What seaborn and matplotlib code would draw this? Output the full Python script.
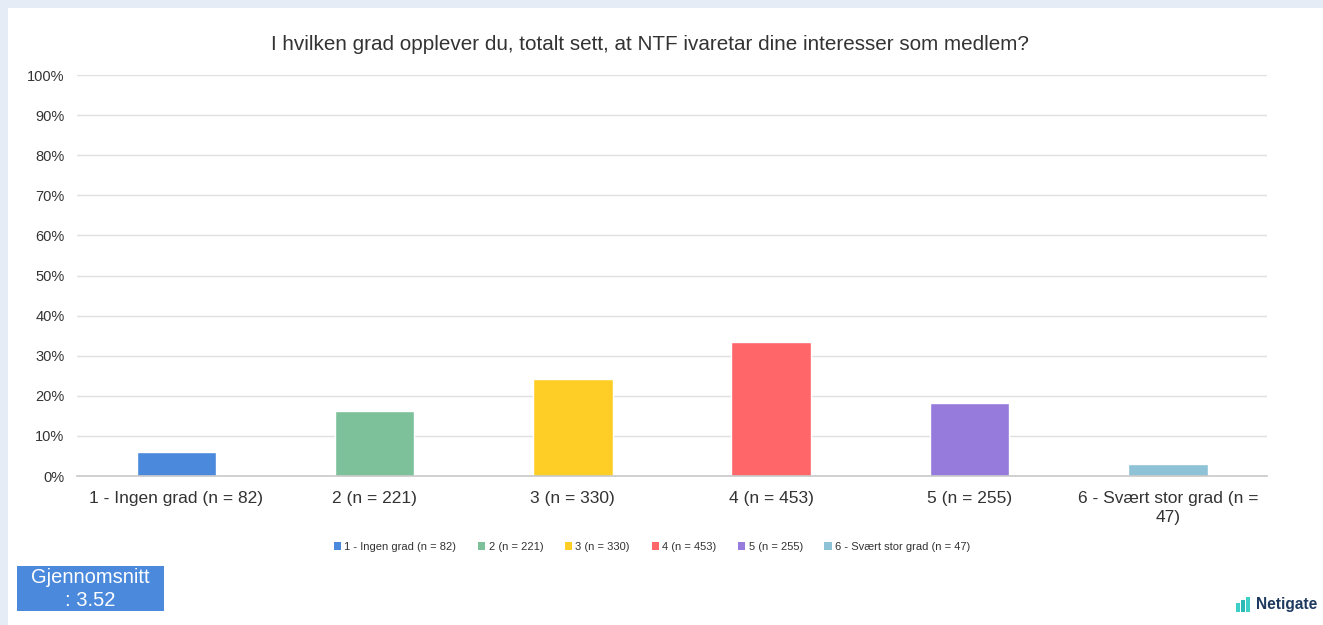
import pandas as pd
import seaborn as sns
import matplotlib.pyplot as plt
from matplotlib.patches import Rectangle, Patch
from matplotlib.ticker import PercentFormatter

# Data
categories = ['1 - Ingen grad (n = 82)', '2 (n = 221)', '3 (n = 330)',
              '4 (n = 453)', '5 (n = 255)', '6 - Svært stor grad (n = 47)']
tick_labels = ['1 - Ingen grad (n = 82)', '2 (n = 221)', '3 (n = 330)',
               '4 (n = 453)', '5 (n = 255)', '6 - Svært stor grad (n =\n47)']
percent = [6.1, 16.3, 24.3, 33.3, 18.2, 3.1]
colors = ['#4A89DC', '#7DC19B', '#FFCE26', '#FF6669', '#967ADC', '#8EC3D7']
title = 'I hvilken grad opplever du, totalt sett, at NTF ivaretar dine interesser som medlem?'
average_text = 'Gjennomsnitt\n: 3.52'

sns.set_style('white')
plt.rcParams['font.family'] = ['Liberation Sans', 'DejaVu Sans']

W, H = 1323, 625
fig = plt.figure(figsize=(W / 100, H / 100), dpi=100)
fig.patch.set_facecolor('#E5ECF6')
# white panel
fig.patches.append(Rectangle((8 / W, 0), 1, (H - 8) / H, transform=fig.transFigure,
                             facecolor='white', edgecolor='none', zorder=-5))

ax = fig.add_axes([77 / W, 149 / H, (1267 - 77) / W, (476 - 75) / H])
ax.set_facecolor('none')

df = pd.DataFrame({'kategori': categories, 'prosent': percent})
sns.barplot(data=df, x='kategori', y='prosent', hue='kategori', palette=colors,
            dodge=False, width=0.4, saturation=1, legend=False, ax=ax)

ax.set_xlim(-0.5, 5.5)
ax.set_ylim(0, 100)
ax.set_yticks(range(0, 101, 10))
ax.yaxis.set_major_formatter(PercentFormatter(decimals=0))
ax.grid(axis='y', color='#E0E0E0', linewidth=1)
ax.set_axisbelow(True)
for s in ['top', 'right', 'left']:
    ax.spines[s].set_visible(False)
ax.spines['bottom'].set_color('#C8C8C8')
ax.spines['bottom'].set_linewidth(1.2)
ax.tick_params(axis='y', length=0, labelsize=10.5, labelcolor='#333333', pad=9)
ax.tick_params(axis='x', length=0, labelsize=12.5, labelcolor='#333333', pad=11)
ax.set_xticks(range(len(tick_labels)))
ax.set_xticklabels(tick_labels, linespacing=1.3)
ax.set_xlabel('')
ax.set_ylabel('')

fig.text(650 / W, 1 - 45 / H, title, ha='center', va='center',
         fontsize=14.9, color='#333333')

handles = [Patch(facecolor=c, edgecolor='none', label=l) for c, l in zip(colors, categories)]
leg = ax.legend(handles=handles, loc='center', bbox_to_anchor=(652 / W, 1 - 547 / H),
                bbox_transform=fig.transFigure, ncol=6, frameon=False,
                fontsize=8, handlelength=0.65, handleheight=0.65,
                handletextpad=0.3, columnspacing=1.95)
for t in leg.get_texts():
    t.set_color('#333333')

# average box
fig.patches.append(Rectangle((17 / W, 1 - 611 / H), 147 / W, 45 / H,
                             transform=fig.transFigure, facecolor='#4A89DC',
                             edgecolor='none'))
fig.text(90 / W, 1 - 589 / H, average_text, ha='center', va='center',
         fontsize=14.5, color='white', linespacing=1.25)

# Netigate logo
for i, (x0, hgt) in enumerate([(1236, 9), (1241, 12), (1246, 15)]):
    fig.patches.append(Rectangle((x0 / W, 1 - 612 / H), 4 / W, hgt / H,
                                 transform=fig.transFigure,
                                 facecolor=['#3FCFC9', '#2BB9B6', '#3FCFC9'][i],
                                 edgecolor='none'))
fig.text(1256 / W, 1 - 605 / H, 'Netigate', ha='left', va='center',
         fontsize=11.2, fontweight='bold', color='#1E3A5F')

fig.savefig('out.png', dpi=100, facecolor=fig.get_facecolor())
